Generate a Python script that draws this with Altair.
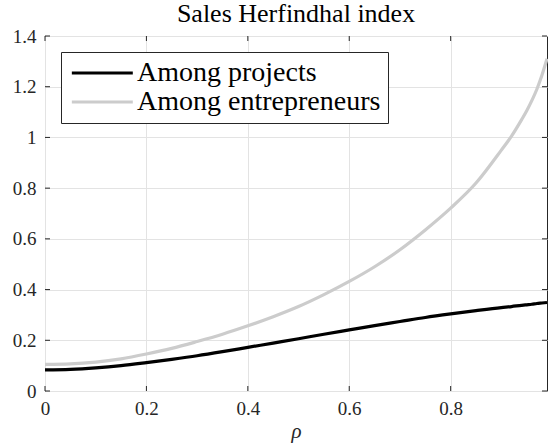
import altair as alt
import pandas as pd

# Correlation parameter rho and the two Herfindahl series
rho = [0.0, 0.05, 0.1, 0.15, 0.2, 0.25, 0.3, 0.35, 0.4, 0.45, 0.5, 0.55, 0.6,
       0.65, 0.7, 0.75, 0.8, 0.85, 0.9, 0.92, 0.94, 0.95, 0.96, 0.97, 0.98, 0.99]
among_projects = [0.083, 0.085, 0.091, 0.100, 0.112, 0.125, 0.139, 0.155, 0.172,
                  0.189, 0.206, 0.224, 0.241, 0.258, 0.274, 0.290, 0.304, 0.317,
                  0.329, 0.333, 0.338, 0.340, 0.342, 0.345, 0.347, 0.349]
among_entrepreneurs = [0.105, 0.107, 0.114, 0.127, 0.146, 0.168, 0.195, 0.224,
                       0.257, 0.293, 0.333, 0.380, 0.432, 0.490, 0.557, 0.635,
                       0.721, 0.820, 0.950, 1.005, 1.070, 1.105, 1.145, 1.190,
                       1.245, 1.310]

series_names = ["Among projects", "Among entrepreneurs"]
series_colors = ["#000000", "#cccccc"]

x_ticks = [0, 0.2, 0.4, 0.6, 0.8]
y_ticks = [0, 0.2, 0.4, 0.6, 0.8, 1.0, 1.2, 1.4]

W, H = 502, 355
FONT = "Liberation Serif"
AXIS_COLOR = "#262626"
GRID_COLOR = "#e3e3e3"

df = pd.concat([
    pd.DataFrame({"rho": rho, "value": among_projects, "series": series_names[0]}),
    pd.DataFrame({"rho": rho, "value": among_entrepreneurs, "series": series_names[1]}),
])

x_scale = alt.Scale(domain=[0, 0.99], nice=False, zero=False)
y_scale = alt.Scale(domain=[0, 1.4], nice=False)

x_axis = alt.Axis(values=x_ticks, title="ρ", format="~g",
                  domain=False, ticks=False, grid=True,
                  gridColor=GRID_COLOR, gridWidth=1,
                  labelFont=FONT, labelFontSize=19, labelColor=AXIS_COLOR,
                  labelPadding=8, labelFlush=False,
                  titleFont=FONT, titleFontStyle="italic", titleFontSize=21,
                  titleFontWeight="normal", titleColor=AXIS_COLOR,
                  titlePadding=2)
y_axis = alt.Axis(values=y_ticks, title=None, format="~g",
                  domain=False, ticks=False, grid=True,
                  gridColor=GRID_COLOR, gridWidth=1,
                  labelFont=FONT, labelFontSize=19, labelColor=AXIS_COLOR,
                  labelPadding=9, labelFlush=False)

# Legend sample line: a horizontal stroke running right of the symbol origin
legend_line = "M-1,0H5"

lines = alt.Chart(df).mark_line(strokeWidth=3.2, interpolate="monotone").encode(
    x=alt.X("rho:Q", scale=x_scale, axis=x_axis),
    y=alt.Y("value:Q", scale=y_scale, axis=y_axis),
    color=alt.Color("series:N",
                    scale=alt.Scale(domain=series_names, range=series_colors),
                    sort=series_names,
                    legend=alt.Legend(title=None, orient="none",
                                      legendX=16, legendY=16,
                                      symbolType=legend_line, symbolSize=413,
                                      symbolStrokeWidth=3.2,
                                      labelFont=FONT, labelFontSize=28,
                                      labelColor="#000000", labelOffset=41,
                                      labelLimit=400, rowPadding=1,
                                      fillColor="#ffffff",
                                      strokeColor=AXIS_COLOR,
                                      padding=7)),
    detail="series:N",
)

# Inward tick marks on all four sides of the box
xt = pd.DataFrame({"rho": x_ticks})
yt = pd.DataFrame({"value": y_ticks})
tick_len = 5
bottom_ticks = alt.Chart(xt).mark_rule(color=AXIS_COLOR, strokeWidth=1).encode(
    x=alt.X("rho:Q", scale=x_scale, axis=x_axis),
    y=alt.value(H), y2=alt.value(H - tick_len))
top_ticks = alt.Chart(xt).mark_rule(color=AXIS_COLOR, strokeWidth=1).encode(
    x=alt.X("rho:Q", scale=x_scale, axis=x_axis),
    y=alt.value(0), y2=alt.value(tick_len))
left_ticks = alt.Chart(yt).mark_rule(color=AXIS_COLOR, strokeWidth=1).encode(
    y=alt.Y("value:Q", scale=y_scale, axis=y_axis),
    x=alt.value(0), x2=alt.value(tick_len))
right_ticks = alt.Chart(yt).mark_rule(color=AXIS_COLOR, strokeWidth=1).encode(
    y=alt.Y("value:Q", scale=y_scale, axis=y_axis),
    x=alt.value(W), x2=alt.value(W - tick_len))

chart = alt.layer(lines, bottom_ticks, top_ticks, left_ticks, right_ticks).properties(
    width=W, height=H,
    background="#ffffff",
    title=alt.TitleParams("Sales Herfindhal index", font=FONT, fontSize=26,
                          fontWeight="normal", color="#000000",
                          anchor="middle", offset=0),
    autosize=alt.AutoSizeParams(type="none"),
    padding={"left": 45, "top": 36, "right": 1, "bottom": 54},
).configure(
    view=alt.ViewConfig(stroke=AXIS_COLOR, strokeWidth=1),
    axis=alt.AxisConfig(labelFont=FONT, titleFont=FONT),
    style={"guide-label": {"font": FONT}, "guide-title": {"font": FONT}},
)

chart.save("out.html", embed_options={"renderer": "svg", "actions": False})
